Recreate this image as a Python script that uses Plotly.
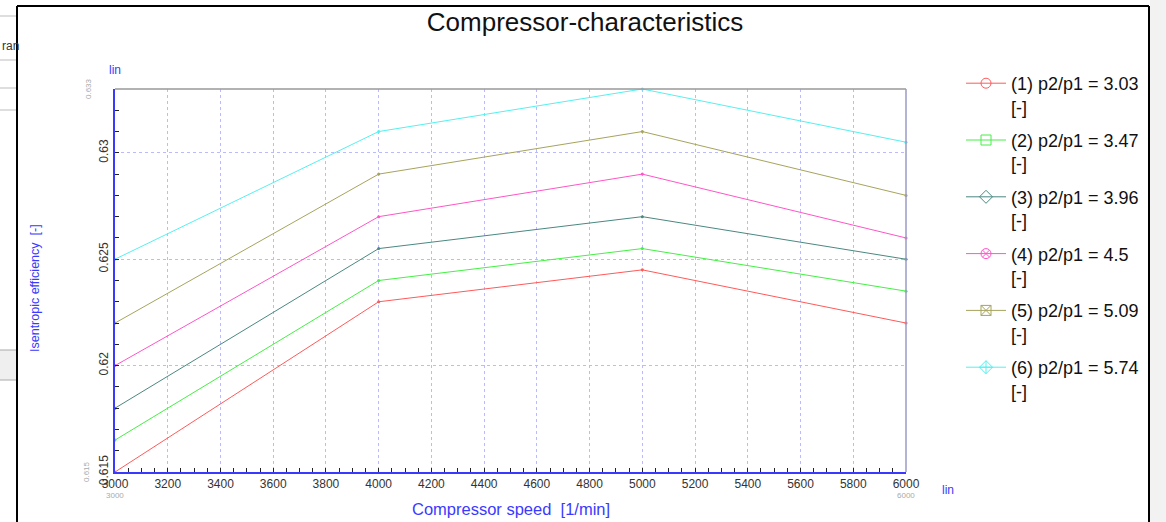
import plotly.graph_objects as go

# ---- data ----
speed = [3000, 4000, 5000, 6000]
series_names = [
    "(1) p2/p1 = 3.03<br>[-]",
    "(2) p2/p1 = 3.47<br>[-]",
    "(3) p2/p1 = 3.96<br>[-]",
    "(4) p2/p1 = 4.5<br>[-]",
    "(5) p2/p1 = 5.09<br>[-]",
    "(6) p2/p1 = 5.74<br>[-]",
]
eff_1 = [0.6150, 0.6230, 0.6245, 0.6220]
eff_2 = [0.6165, 0.6240, 0.6255, 0.6235]
eff_3 = [0.6180, 0.6255, 0.6270, 0.6250]
eff_4 = [0.6200, 0.6270, 0.6290, 0.6260]
eff_5 = [0.6220, 0.6290, 0.6310, 0.6280]
eff_6 = [0.6250, 0.6310, 0.6330, 0.6305]
series_values = [eff_1, eff_2, eff_3, eff_4, eff_5, eff_6]

x_ticks = list(range(3000, 6001, 200))
y_ticks = [0.615, 0.62, 0.625, 0.63]
y_ticktext = ["0.615", "0.62", "0.625", "0.63"]

colors = ["#ff5a5a", "#44f044", "#4a8880", "#ff55c8", "#a6a45c", "#55f0f0"]
symbols = ["circle-open", "square-open", "diamond-open",
           "circle-x-open", "square-x-open", "diamond-cross-open"]

# ---- geometry (pixels) ----
W, H = 1166, 522
L, R, T, B = 115, 906, 89, 472
pw, ph = R - L, B - T

def px(x):
    return (x - L) / pw

def py(y):
    return (B - y) / ph

FONT = "Liberation Sans, Arial, sans-serif"
BLUE = "#3a3aff"

fig = go.Figure()

for name, vals, c, s in zip(series_names, series_values, colors, symbols):
    fig.add_trace(go.Scatter(
        x=speed, y=vals, mode="lines+markers", showlegend=False,
        line=dict(color=c, width=1), marker=dict(color=c, size=3),
        cliponaxis=False, hoverinfo="x+y"))
for name, c, s in zip(series_names, colors, symbols):
    fig.add_trace(go.Scatter(
        x=[None], y=[None], mode="lines+markers", name=name,
        line=dict(color=c, width=1),
        marker=dict(color=c, size=10, symbol=s, line=dict(width=1, color=c)),
        legendgroup=name))

fig.update_layout(
    width=W, height=H,
    margin=dict(l=L, r=W - R, t=T, b=H - B),
    paper_bgcolor="white", plot_bgcolor="white",
    font=dict(family=FONT, color="#222"),
    title=dict(text="Compressor-characteristics", x=585 / W, xref="container",
               xanchor="center", y=1 - 22 / H, yref="container", yanchor="middle",
               font=dict(size=26, color="#111", family=FONT)),
    legend=dict(x=px(961), y=py(65), xanchor="left", yanchor="top",
                font=dict(size=18, color="#111", family=FONT),
                valign="top", tracegroupgap=7, bgcolor="rgba(0,0,0,0)",
                itemwidth=40, maxheight=480),
    xaxis=dict(range=[3000, 6000], tickvals=x_ticks,
               ticktext=[str(v) for v in x_ticks],
               tickfont=dict(size=12, color="#333"),
               showgrid=True, gridcolor="#babaff", griddash="dot", gridwidth=1,
               showline=True, linecolor=BLUE, linewidth=1.5,
               ticks="inside", ticklen=4, tickcolor="#222",
               minor=dict(dtick=50, ticks="inside", ticklen=4, tickcolor="#222",
                          showgrid=False),
               zeroline=False, fixedrange=True),
    yaxis=dict(range=[0.615, 0.633], tickvals=y_ticks, ticktext=y_ticktext,
               tickangle=-90, tickfont=dict(size=12, color="#333"),
               showgrid=True, gridcolor="#babaff", griddash="dot", gridwidth=1,
               showline=True, linecolor=BLUE, linewidth=1.5,
               ticks="inside", ticklen=4, tickcolor="#222",
               minor=dict(dtick=0.001, tick0=0.615, ticks="inside", ticklen=4,
                          tickcolor="#222", showgrid=False),
               zeroline=False, fixedrange=True),
)

shapes = []
# gray right background outside the frame
shapes.append(dict(type="rect", xref="paper", yref="paper",
                   x0=px(1150), x1=px(1170), y0=py(-5), y1=py(530),
                   fillcolor="#f2f2f2", line=dict(width=0), layer="below"))
# left UI fragments
for yy in [16, 60, 88, 110]:
    shapes.append(dict(type="line", xref="paper", yref="paper",
                       x0=px(-2), x1=px(17), y0=py(yy), y1=py(yy),
                       line=dict(color="#bdbdbd", width=1)))
shapes.append(dict(type="rect", xref="paper", yref="paper",
                   x0=px(-2), x1=px(17), y0=py(350), y1=py(380),
                   fillcolor="#efefef", line=dict(color="#aaaaaa", width=1)))
# black frame
shapes.append(dict(type="line", xref="paper", yref="paper",
                   x0=px(17), x1=px(1149), y0=py(6), y1=py(6),
                   line=dict(color="black", width=2)))
shapes.append(dict(type="line", xref="paper", yref="paper",
                   x0=px(17), x1=px(17), y0=py(6), y1=py(530),
                   line=dict(color="black", width=2)))
shapes.append(dict(type="line", xref="paper", yref="paper",
                   x0=px(1149), x1=px(1149), y0=py(6), y1=py(530),
                   line=dict(color="black", width=2)))
# top and right plot borders (gray)
shapes.append(dict(type="line", xref="paper", yref="paper",
                   x0=0, x1=1, y0=1, y1=1, line=dict(color="#999999", width=1.5)))
shapes.append(dict(type="line", xref="paper", yref="paper",
                   x0=1, x1=1, y0=0, y1=1, line=dict(color="#9a9ac8", width=1.5)))
fig.update_layout(shapes=shapes)

ann = [
    dict(text="lin", x=px(115), y=py(70), xref="paper", yref="paper",
         showarrow=False, font=dict(size=12, color=BLUE), xanchor="center", yanchor="middle"),
    dict(text="lin", x=px(948), y=py(490), xref="paper", yref="paper",
         showarrow=False, font=dict(size=12, color=BLUE), xanchor="center", yanchor="middle"),
    dict(text="Isentropic efficiency  [-]", x=px(35), y=py(288), xref="paper", yref="paper",
         showarrow=False, textangle=-90, font=dict(size=12.5, color=BLUE),
         xanchor="center", yanchor="middle"),
    dict(text="Compressor speed  [1/min]", x=px(511), y=py(509), xref="paper", yref="paper",
         showarrow=False, font=dict(size=16.5, color=BLUE), xanchor="center", yanchor="middle"),
    dict(text="0.633", x=px(88), y=py(89), xref="paper", yref="paper",
         showarrow=False, textangle=-90, font=dict(size=8, color="#aaaaaa"),
         xanchor="center", yanchor="middle"),
    dict(text="0.615", x=px(86), y=py(472), xref="paper", yref="paper",
         showarrow=False, textangle=-90, font=dict(size=8, color="#aaaaaa"),
         xanchor="center", yanchor="middle"),
    dict(text="3000", x=px(115), y=py(495), xref="paper", yref="paper",
         showarrow=False, font=dict(size=8, color="#aaaaaa"),
         xanchor="center", yanchor="middle"),
    dict(text="6000", x=px(906), y=py(495), xref="paper", yref="paper",
         showarrow=False, font=dict(size=8, color="#aaaaaa"),
         xanchor="center", yanchor="middle"),
    dict(text="ran", x=px(0), y=py(46), xref="paper", yref="paper",
         showarrow=False, font=dict(size=12, color="#333"),
         xanchor="left", yanchor="middle"),
]
fig.update_layout(annotations=ann)

fig.write_html("out.html")
